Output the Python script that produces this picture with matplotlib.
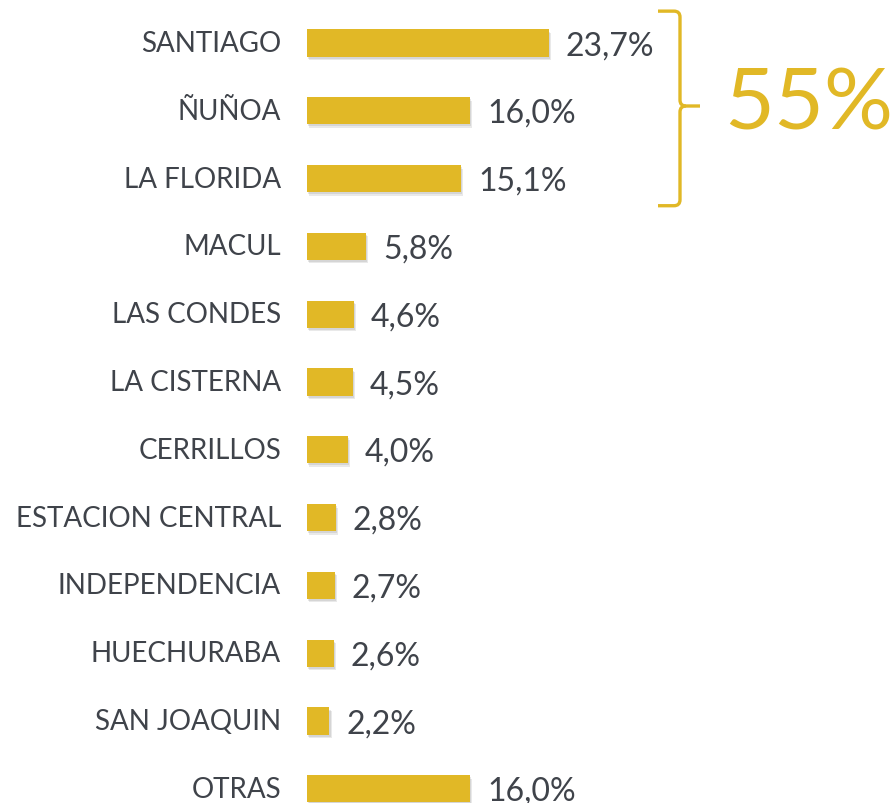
import matplotlib
matplotlib.use("Agg")
import matplotlib.pyplot as plt
import matplotlib.patheffects as pe
from matplotlib.path import Path
from matplotlib.patches import PathPatch

categories = ["SANTIAGO", "ÑUÑOA", "LA FLORIDA", "MACUL", "LAS CONDES", "LA CISTERNA",
              "CERRILLOS", "ESTACION CENTRAL", "INDEPENDENCIA", "HUECHURABA",
              "SAN JOAQUIN", "OTRAS"]
values = [23.7, 16.0, 15.1, 5.8, 4.6, 4.5, 4.0, 2.8, 2.7, 2.6, 2.2, 16.0]
value_labels = ["23,7%", "16,0%", "15,1%", "5,8%", "4,6%", "4,5%", "4,0%", "2,8%",
                "2,7%", "2,6%", "2,2%", "16,0%"]
group_label = "55%"
group_rows = [0, 1, 2]

GOLD = "#E1B826"
TEXT = "#3f434a"
plt.rcParams['font.family'] = ['Lato', 'DejaVu Sans']

W, H = 895, 804
fig = plt.figure(figsize=(W / 100, H / 100), dpi=100)
ax = fig.add_axes([0, 0, 1, 1])
ax.set_axis_off()

px_per_unit = 10.2
x0_px = 307
row0_px = 44
row_px = 67.8
ax.set_xlim(-x0_px / px_per_unit, (W - x0_px) / px_per_unit)
ax.set_ylim((H - row0_px) / row_px, -row0_px / row_px)

def px2x(p):
    return (p - x0_px) / px_per_unit

def px2y(p):
    return (p - row0_px) / row_px

ys = list(range(len(categories)))
bars = ax.barh(ys, values, height=0.40, color=GOLD, zorder=3)
for b in bars:
    b.set_path_effects([pe.SimplePatchShadow(offset=(1.5, -2.5), shadow_rgbFace='#888888', alpha=0.18),
                        pe.SimplePatchShadow(offset=(0.8, -1.5), shadow_rgbFace='#888888', alpha=0.2),
                        pe.Normal()])

for y, v, cat, lab in zip(ys, values, categories, value_labels):
    ax.text(px2x(281), y, cat, ha='right', va='center', fontsize=20, color=TEXT)
    ax.text(v + 17 / px_per_unit, y + 0.03, lab, ha='left', va='center', fontsize=23, color=TEXT)

# brace around group rows
top = min(group_rows) - 0.47
bot = max(group_rows) + 0.40
mid = px2y(107)
xl = px2x(658)
xv = px2x(680)
xt = px2x(700)
rx = 6 / px_per_unit
ry = 6 / row_px
verts = [(xl, top), (xv - rx, top), (xv, top), (xv, top + ry),
         (xv, mid - ry), (xv, mid), (xv + rx, mid), (xt, mid)]
codes = [Path.MOVETO, Path.LINETO, Path.CURVE3, Path.CURVE3,
         Path.LINETO, Path.CURVE3, Path.CURVE3, Path.LINETO]
ax.add_patch(PathPatch(Path(verts, codes), fill=False, edgecolor=GOLD, lw=2.4, capstyle='butt', joinstyle='round'))
verts2 = [(xv + rx, mid), (xv, mid), (xv, mid + ry), (xv, bot - ry),
          (xv, bot), (xv - rx, bot), (xl, bot)]
codes2 = [Path.MOVETO, Path.CURVE3, Path.CURVE3, Path.LINETO,
          Path.CURVE3, Path.CURVE3, Path.LINETO]
ax.add_patch(PathPatch(Path(verts2, codes2), fill=False, edgecolor=GOLD, lw=2.4, capstyle='butt', joinstyle='round'))

ax.text(px2x(724), px2y(105), group_label, ha='left', va='center', fontsize=62,
        color=GOLD, fontweight='normal')

fig.savefig("out.png", dpi=100)
